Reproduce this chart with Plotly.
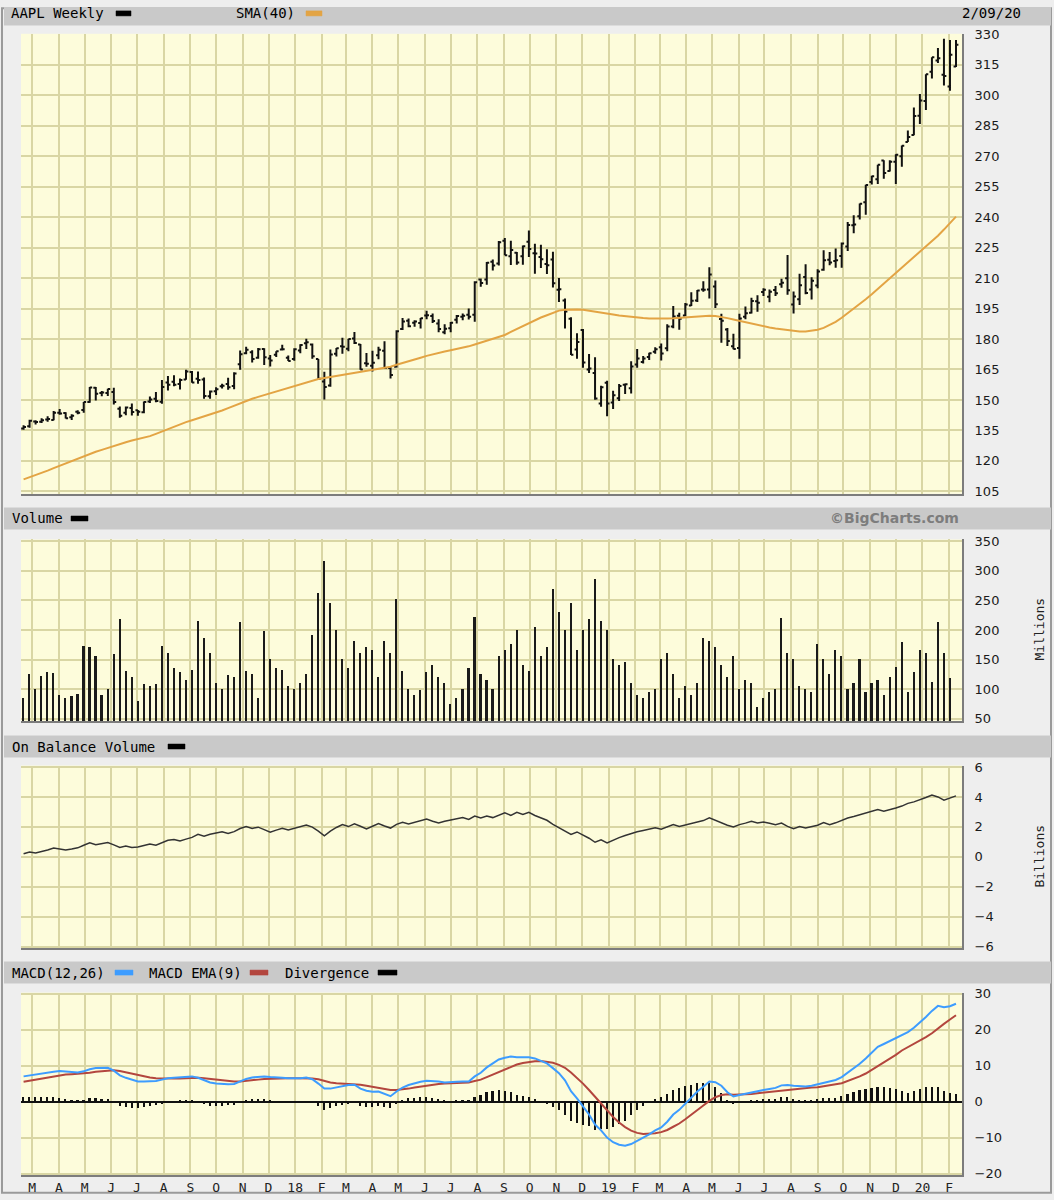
import pandas as pd
import plotly.graph_objects as go

W, H = 1054, 1200

# weekly bars, week starting Sunday 2017-02-19 .. 2020-02-09
dates = pd.date_range("2017-02-19", periods=156, freq="W-SUN")

price_open = [
    135.9, 137.1, 139.4, 139.3, 140.4, 140.1, 143.7, 143.6, 141.5, 144.2, 145.1, 149.0, 156.0, 153.4, 153.4,
    153.9, 145.7, 143.7, 146.0, 144.9, 144.0, 149.2, 150.6, 149.1, 158.6, 159.0, 157.9, 160.1, 163.8, 160.5,
    160.1, 151.8, 154.3, 156.7, 157.9, 156.9, 167.6, 173.0, 173.5, 170.8, 175.1, 170.4, 172.2, 174.9, 170.8,
    170.2, 174.4, 177.9, 177.3, 170.2, 159.1, 157.1, 172.8, 176.4, 175.2, 180.3, 177.3, 168.1, 166.9, 172.0,
    174.2, 165.7, 166.4, 184.9, 189.0, 188.0, 187.9, 191.6, 191.4, 187.7, 183.4, 185.3, 189.5, 191.0, 191.9,
    191.9, 209.3, 209.3, 218.1, 217.2, 228.4, 220.8, 222.5, 220.8, 227.9, 222.2, 220.4, 217.0, 219.2, 204.3,
    199.0, 190.0, 174.9, 184.5, 165.0, 163.3, 148.2,
    158.5, 148.7, 150.8, 157.5, 155.8, 167.4, 168.7, 171.2, 173.7, 175.9, 175.5, 186.2, 191.5, 191.6, 196.5,
    199.0, 204.4, 204.4, 205.9, 189.9, 184.7, 176.4, 175.6, 191.0, 192.9, 198.6, 203.2, 200.8, 204.1, 207.0,
    209.9, 197.0, 199.6, 210.6, 204.4, 206.4, 214.1, 219.0, 218.4, 220.9, 225.6, 236.0, 240.5, 247.4, 257.3,
    258.7, 267.9, 262.7, 267.3, 270.0, 277.0, 280.5,
    289.9, 297.2, 311.6, 317.2, 310.1, 304.3, 314.2,
]
price_high = [
    137.5, 140.3, 140.0, 141.0, 142.0, 144.5, 145.5, 143.9, 142.9, 144.9, 149.0, 156.4, 156.4, 154.4, 155.5,
    156.0, 146.8, 146.8, 148.3, 145.0, 149.3, 151.7, 153.9, 159.8, 161.8, 162.2, 160.6, 164.9, 164.3, 164.0,
    161.0, 154.7, 156.3, 158.0, 160.9, 163.6, 174.3, 176.2, 174.5, 175.6, 175.4, 172.1, 174.0, 177.2, 171.9,
    175.4, 177.4, 180.1, 177.8, 170.2, 163.9, 174.8, 175.6, 180.6, 180.0, 183.5, 177.5, 173.1, 174.2, 176.2,
    178.9, 166.3, 184.3, 190.4, 190.1, 189.3, 190.3, 193.9, 192.6, 189.8, 187.3, 188.4, 191.8, 192.6, 195.0,
    208.4, 209.8, 217.9, 219.2, 228.3, 229.7, 228.4, 222.9, 226.0, 233.5, 226.9, 226.4, 224.2, 223.0, 210.1,
    199.9, 190.7, 182.8, 184.9, 172.6, 171.0, 157.0,
    159.4, 154.5, 157.9, 158.1, 169.0, 175.1, 171.7, 173.3, 175.9, 177.8, 187.3, 196.3, 192.9, 197.8, 203.0,
    204.2, 208.5, 215.3, 208.8, 192.5, 185.4, 182.6, 192.4, 196.0, 200.3, 201.6, 205.0, 204.4, 206.1, 209.7,
    221.4, 203.4, 212.1, 216.8, 210.4, 214.4, 223.7, 222.9, 224.6, 227.5, 237.6, 241.0, 246.7, 256.0, 260.4,
    265.8, 268.0, 268.0, 271.0, 275.3, 282.7, 294.0,
    300.6, 310.4, 318.8, 323.3, 327.9, 327.2, 327.2,
]
price_low = [
    135.3, 136.3, 137.9, 138.6, 139.3, 140.0, 142.7, 140.9, 140.1, 142.9, 143.7, 148.6, 149.7, 151.8, 152.0,
    147.8, 141.2, 142.5, 142.3, 142.2, 143.4, 148.5, 148.9, 148.1, 154.6, 156.7, 155.1, 159.9, 158.5, 158.0,
    150.6, 150.6, 152.5, 155.6, 155.0, 155.3, 164.9, 172.5, 168.4, 170.3, 167.2, 166.5, 171.2, 174.4, 169.2,
    169.3, 173.0, 175.1, 170.3, 160.0, 150.2, 156.5, 171.4, 172.7, 174.0, 177.6, 164.9, 166.4, 164.0, 170.0,
    165.4, 160.6, 166.0, 184.5, 185.8, 186.1, 185.2, 189.8, 187.9, 183.4, 182.4, 183.4, 187.6, 189.3, 189.6,
    188.5, 205.8, 206.7, 213.7, 216.2, 221.3, 216.5, 216.6, 216.6, 220.4, 212.2, 215.0, 212.0, 205.4, 198.2,
    185.2, 172.1, 170.3, 165.9, 163.3, 150.1, 146.6,
    142.0, 145.6, 149.5, 152.9, 153.2, 165.9, 168.0, 169.7, 172.7, 169.4, 174.0, 185.3, 184.6, 191.3, 196.3,
    198.2, 203.3, 199.9, 195.3, 178.2, 176.6, 175.0, 170.3, 189.7, 192.6, 193.4, 201.2, 198.1, 201.2, 205.3,
    201.8, 192.6, 196.8, 202.1, 199.5, 205.0, 213.6, 216.3, 215.1, 215.1, 223.3, 232.1, 238.9, 241.2, 256.1,
    256.3, 258.9, 262.5, 256.3, 264.8, 277.0, 280.4,
    285.9, 292.8, 308.3, 315.9, 304.8, 302.2, 314.0,
]
price_close = [
    136.66, 139.78, 139.14, 139.99, 140.64, 143.66, 143.34, 141.05, 142.27, 143.65, 148.96, 156.10, 153.06, 153.61, 155.45,
    148.98, 142.27, 146.28, 144.02, 144.18, 149.04, 150.27, 149.50, 156.39, 157.48, 157.50, 159.86, 164.05, 158.63, 159.88,
    151.89, 154.12, 155.30, 156.99, 156.25, 163.05, 172.50, 174.67, 170.15, 174.97, 171.05, 169.37, 173.97, 175.01, 169.23,
    175.00, 177.09, 178.46, 171.51, 160.50, 156.41, 172.43, 175.50, 176.21, 179.98, 178.02, 164.94, 167.78, 168.38, 174.73,
    165.72, 162.32, 183.83, 188.59, 186.31, 188.58, 190.24, 191.70, 188.84, 184.92, 185.11, 187.97, 191.33, 191.44, 190.98,
    207.99, 207.53, 217.58, 216.16, 227.63, 221.30, 223.84, 217.66, 225.74, 224.29, 222.11, 219.31, 216.30, 207.48, 204.47,
    193.53, 172.29, 178.58, 168.49, 165.48, 150.73, 156.23,
    148.26, 152.29, 156.82, 157.76, 166.52, 170.41, 170.42, 172.97, 174.97, 172.91, 186.12, 191.05, 189.95, 197.00, 198.87,
    203.86, 204.30, 211.75, 197.18, 189.00, 178.97, 175.07, 190.15, 192.74, 198.78, 197.92, 204.23, 203.30, 202.59, 207.74,
    204.02, 200.99, 206.50, 202.64, 208.74, 213.26, 218.75, 217.73, 218.82, 227.01, 236.21, 236.41, 246.58, 255.82, 260.14,
    265.76, 261.78, 267.25, 270.71, 275.15, 279.44, 289.80,
    297.43, 310.33, 318.73, 318.31, 309.51, 320.03, 324.95,
]
sma40 = [
    110.9, 111.9, 113.0, 114.1, 115.2, 116.4, 117.6, 118.7, 119.9, 121.1, 122.3, 123.4, 124.5, 125.4, 126.4,
    127.4, 128.4, 129.2, 130.0, 130.7, 131.4, 132.2, 133.3, 134.5, 135.6, 136.8, 138.0, 139.1, 140.0, 140.9,
    141.8, 142.7, 143.6, 144.8, 146.0, 147.2, 148.3, 149.5, 150.6, 151.5, 152.4, 153.3, 154.2, 155.1, 156.0,
    157.0, 157.9, 158.8, 159.7, 160.3, 160.8, 161.3, 161.7, 162.1, 162.6, 163.1, 163.6, 164.1, 164.6, 165.1,
    165.7, 166.4, 167.3, 168.1, 169.0, 169.9, 170.8, 171.7, 172.5, 173.3, 173.9, 174.5, 175.1, 175.8, 176.4,
    177.3, 178.2, 179.1, 180.0, 180.9, 182.0, 183.5, 185.0, 186.5, 188.0, 189.5, 190.6, 191.7, 192.8, 194.0,
    194.4, 194.6, 194.6, 194.4, 194.0, 193.6, 193.1, 192.6, 192.1, 191.6, 191.2, 190.9, 190.6, 190.3, 190.1,
    190.0, 190.0, 190.1, 190.2, 190.4, 190.5, 190.8, 191.1, 191.3, 191.5, 191.3, 190.9, 190.3, 189.6, 188.9,
    188.2, 187.5, 186.8, 186.2, 185.7, 185.2, 184.8, 184.3, 184.0, 183.7, 183.7, 184.0, 184.6, 185.5, 186.8,
    188.5, 190.5, 192.7, 195.0, 197.4, 199.6, 202.0, 204.6, 207.3, 210.0, 212.7, 215.3, 217.8, 220.3, 222.8,
    225.3, 228.0, 230.9, 233.9, 237.0, 240.3,
]
volume_m = [
    85, 125, 100, 122, 128, 127, 90, 85, 88, 92, 172, 170, 155, 90, 100,
    158, 218, 130, 120, 80, 108, 105, 108, 172, 160, 135, 128, 115, 132, 215,
    185, 160, 110, 100, 124, 120, 213, 130, 125, 85, 197, 150, 135, 132, 105,
    100, 110, 125, 190, 262, 315, 245, 200, 150, 135, 180, 160, 170, 165, 120,
    180, 160, 252, 130, 100, 90, 98, 128, 140, 120, 110, 75, 85, 100, 135,
    222, 125, 115, 100, 155, 165, 175, 200, 140, 130, 205, 155, 170, 268, 230,
    200, 245, 165, 200, 218, 285, 215,
    200, 150, 140, 145, 110, 90, 85, 95, 100, 150, 160, 125, 85, 105, 90,
    110, 185, 180, 170, 140, 120, 155, 100, 115, 110, 70, 85, 95, 100, 220,
    160, 150, 105, 100, 95, 175, 150, 125, 165, 155, 100, 110, 150, 95, 110,
    115, 90, 120, 137, 179, 94,
    129, 165, 161, 112, 212, 161, 119,
]
obv_b = [
    0.20, 0.32, 0.25, 0.33, 0.45, 0.58, 0.50, 0.45, 0.52, 0.60, 0.77, 0.93, 0.80, 0.86, 0.95,
    0.80, 0.62, 0.72, 0.62, 0.66, 0.76, 0.86, 0.78, 0.95, 1.10, 1.16, 1.05, 1.18, 1.30, 1.50,
    1.38, 1.50, 1.60, 1.68, 1.56, 1.68, 1.89, 2.02, 1.90, 1.98, 1.82, 1.64, 1.78, 1.91, 1.80,
    1.90, 2.01, 2.13, 1.98, 1.72, 1.40, 1.72, 1.96, 2.16, 2.02, 2.20, 2.04, 1.87, 2.04, 2.22,
    2.06, 1.92, 2.17, 2.30, 2.20, 2.29, 2.39, 2.52, 2.38, 2.26, 2.37, 2.45, 2.53, 2.63, 2.50,
    2.72, 2.60, 2.72, 2.62, 2.78, 2.94, 2.77, 2.97, 2.83, 2.97, 2.76, 2.61, 2.44, 2.17, 1.94,
    1.74, 1.50, 1.66, 1.46, 1.24, 0.97, 1.13, 0.92, 1.12, 1.28, 1.42, 1.56, 1.67, 1.76, 1.85,
    1.94, 1.84, 1.99, 2.15, 2.03, 2.12, 2.22, 2.31, 2.42, 2.60, 2.42, 2.25, 2.11, 1.99, 2.15,
    2.25, 2.37, 2.26, 2.33, 2.24, 2.15, 2.25, 2.03, 1.87, 2.02, 1.92, 2.02, 2.11, 2.29, 2.14,
    2.27, 2.43, 2.59, 2.69, 2.80, 2.95, 3.05, 3.16, 3.05, 3.14, 3.26, 3.39, 3.57, 3.67, 3.80,
    3.96, 4.12, 4.00, 3.79, 3.95, 4.07,
]
macd = [
    7.0, 7.3, 7.6, 7.9, 8.1, 8.3, 8.5, 8.3, 8.1, 8.1, 8.4, 9.0, 9.3, 9.3, 9.4,
    8.6, 7.3, 6.6, 6.0, 5.6, 5.6, 5.7, 5.7, 6.1, 6.5, 6.6, 6.7, 6.9, 7.0, 6.6,
    6.0, 5.3, 5.0, 4.8, 4.8, 4.9, 5.6, 6.3, 6.7, 6.9, 7.0, 6.8, 6.6, 6.6, 6.5,
    6.4, 6.5, 6.7, 6.2, 5.0, 3.6, 3.6, 4.0, 4.3, 4.6, 4.7, 3.6, 3.0, 2.7, 2.8,
    2.2, 1.5, 2.8, 3.9, 4.6, 5.1, 5.5, 5.8, 5.8, 5.6, 5.3, 5.3, 5.5, 5.6, 5.6,
    7.0, 8.0, 9.5, 10.5, 11.7, 12.2, 12.5, 12.3, 12.4, 12.3, 12.0, 11.4, 10.6, 9.3, 7.9,
    5.9, 2.9, 0.9, -1.5, -3.6, -6.4, -8.0, -10.0, -11.3, -12.0, -12.3, -11.8, -10.9, -10.1, -9.1,
    -8.0, -7.2, -5.6, -3.6, -2.3, -0.5, 1.1, 2.8, 4.1, 5.6, 5.4, 4.4, 2.6, 1.4, 1.8,
    2.2, 2.6, 2.8, 3.2, 3.5, 3.8, 4.5, 4.6, 4.4, 4.3, 4.2, 4.4, 4.8, 5.3, 5.7,
    6.0, 6.8, 8.0, 9.1, 10.5, 12.0, 13.6, 15.2, 16.0, 16.8, 17.5, 18.3, 19.3, 20.5, 21.9,
    23.5, 25.2, 26.6, 26.2, 26.5, 27.2,
]
macd_ema9 = [
    5.5, 5.8, 6.1, 6.4, 6.7, 7.0, 7.3, 7.5, 7.6, 7.7, 7.8, 8.0, 8.3, 8.5, 8.7,
    8.7, 8.5, 8.1, 7.7, 7.3, 7.0, 6.7, 6.5, 6.4, 6.4, 6.4, 6.4, 6.5, 6.6, 6.6,
    6.5, 6.3, 6.0, 5.8, 5.7, 5.6, 5.6, 5.7, 5.9, 6.1, 6.3, 6.4, 6.4, 6.5, 6.5,
    6.5, 6.5, 6.5, 6.4, 6.2, 5.7, 5.3, 5.1, 5.0, 4.9, 4.9, 4.7, 4.4, 4.1, 3.9,
    3.6, 3.2, 3.2, 3.3, 3.6, 3.9, 4.2, 4.5, 4.8, 4.9, 5.0, 5.1, 5.2, 5.3, 5.3,
    5.7, 6.1, 6.8, 7.5, 8.3, 9.1, 9.8, 10.3, 10.7, 11.0, 11.2, 11.3, 11.1, 10.8, 10.2,
    9.4, 8.1, 6.6, 5.0, 3.2, 1.3, -0.6, -2.5, -4.3, -5.8, -7.1, -8.1, -8.7, -9.0, -9.0,
    -8.8, -8.5, -7.9, -7.0, -6.1, -4.9, -3.7, -2.4, -1.1, 0.2, 1.2, 1.8, 2.0, 1.9, 1.9,
    2.0, 2.1, 2.3, 2.5, 2.7, 2.9, 3.1, 3.3, 3.5, 3.7, 3.8, 3.9, 4.0, 4.2, 4.5,
    4.8, 5.1, 5.7, 6.3, 7.0, 7.8, 8.8, 9.8, 10.9, 12.0, 13.0, 14.2, 15.1, 16.0, 16.9,
    17.9, 19.0, 20.4, 21.6, 22.8, 24.0,
]
divergence = [
    1.5, 1.5, 1.5, 1.5, 1.4, 1.3, 1.2, 0.8, 0.5, 0.4, 0.6, 1.0, 1.0, 0.8, 0.7,
    -0.1, -1.2, -1.5, -1.7, -1.7, -1.4, -1.0, -0.8, -0.3, 0.1, 0.2, 0.3, 0.4, 0.4, 0.0,
    -0.5, -1.0, -1.0, -1.0, -0.9, -0.7, 0.0, 0.6, 0.8, 0.8, 0.7, 0.4, 0.2, 0.1, 0.0,
    -0.1, 0.0, 0.2, -0.2, -1.2, -2.1, -1.7, -1.1, -0.7, -0.3, -0.2, -1.1, -1.4, -1.4, -1.1,
    -1.4, -1.7, -0.4, 0.6, 1.0, 1.2, 1.3, 1.3, 1.0, 0.7, 0.3, 0.2, 0.3, 0.3, 0.3,
    1.3, 1.9, 2.7, 3.0, 3.4, 3.1, 2.7, 2.0, 1.7, 1.3, 0.8, 0.1, -0.5, -1.5, -2.3,
    -3.5, -5.2, -5.7, -6.5, -6.8, -7.7, -7.4, -7.5, -7.0, -6.2, -5.2, -3.7, -2.2, -1.1, -0.1,
    0.8, 1.3, 2.3, 3.4, 3.8, 4.4, 4.8, 5.2, 5.2, 5.4, 4.2, 2.6, 0.6, -0.5, -0.1,
    0.2, 0.5, 0.5, 0.7, 0.8, 0.9, 1.4, 1.3, 0.9, 0.6, 0.4, 0.5, 0.8, 1.1, 1.2,
    1.2, 1.7, 2.3, 2.8, 3.2, 3.5, 3.8, 4.1, 4.3, 4.0, 3.5, 2.95, 2.5, 3.1, 3.6,
    4.1, 4.25, 4.25, 3.1, 2.5, 2.2,
]

month_starts = pd.date_range("2017-03-01", "2020-02-01", freq="MS")
month_labels = ["M", "A", "M", "J", "J", "A", "S", "O", "N", "D",
                "18", "F", "M", "A", "M", "J", "J", "A", "S", "O", "N", "D",
                "19", "F", "M", "A", "M", "J", "J", "A", "S", "O", "N", "D",
                "20", "F"]

BG = "#fdfcdb"
GRID = "#d9d6a4"
HEADER = "#c9c9c9"
MONO = "DejaVu Sans Mono"


def px_x(px):
    return px / W


def px_y(px):
    # the captured page comes out slightly squeezed vertically, so stretch the target rows to match
    return 1 - ((px - 6.6) / 0.989) / H


fig = go.Figure()

fig.add_trace(go.Ohlc(x=dates, open=price_open, high=price_high, low=price_low, close=price_close,
                      increasing=dict(line=dict(color="#111111", width=2)),
                      decreasing=dict(line=dict(color="#111111", width=2)),
                      tickwidth=0.4, xaxis="x", yaxis="y", hoverinfo="skip"))
fig.add_trace(go.Scatter(x=dates, y=sma40, mode="lines", line=dict(color="#e3a444", width=2),
                         xaxis="x", yaxis="y", hoverinfo="skip"))
fig.add_trace(go.Bar(x=dates, y=volume_m, width=1.6e8, marker=dict(color="#1a1a1a", line=dict(width=0)),
                     xaxis="x2", yaxis="y2", hoverinfo="skip"))
fig.add_trace(go.Scatter(x=dates, y=obv_b, mode="lines", line=dict(color="#333333", width=1.5),
                         xaxis="x3", yaxis="y3", hoverinfo="skip"))
fig.add_trace(go.Bar(x=dates, y=divergence, width=1.6e8, marker=dict(color="#111111", line=dict(width=0)),
                     xaxis="x4", yaxis="y4", hoverinfo="skip"))
fig.add_trace(go.Scatter(x=dates, y=macd_ema9, mode="lines", line=dict(color="#b3463e", width=2),
                         xaxis="x4", yaxis="y4", hoverinfo="skip"))
fig.add_trace(go.Scatter(x=dates, y=macd, mode="lines", line=dict(color="#3d9cff", width=2),
                         xaxis="x4", yaxis="y4", hoverinfo="skip"))

# panels: (top px, bottom px, y range, dtick, tick0)
panels = [
    (33.4, 493.3, [103.8, 330.3], 15, 105),
    (539.0, 720.7, [46, 353], 50, 50),
    (765.0, 947.5, [-6.1, 6.1], 2, 0),
    (992.0, 1174.0, [-20.3, 30.3], 10, 0),
]

layout = dict(
    width=W, height=H, margin=dict(l=0, r=0, t=0, b=0),
    paper_bgcolor="#eeeeee", plot_bgcolor=BG, showlegend=False,
    hovermode=False, bargap=0,
)
for n, (top, bottom, yr, dt, t0) in enumerate(panels, start=1):
    sx = "" if n == 1 else str(n)
    layout["xaxis" + sx] = dict(
        type="date", range=["2017-02-16", "2020-02-16"], domain=[px_x(21), px_x(962)],
        anchor="y" + sx, tickvals=list(month_starts), ticktext=month_labels,
        showticklabels=(n == 4), ticks="", showgrid=True, gridcolor=GRID, gridwidth=2,
        showline=True, linecolor="#7c7c7c", linewidth=2, zeroline=False,
        tickfont=dict(family=MONO, size=13, color="#222222"),
        rangeslider=dict(visible=False), fixedrange=True,
    )
    layout["yaxis" + sx] = dict(
        domain=[px_y(bottom), px_y(top)], range=yr, anchor="x" + sx, side="right",
        dtick=dt, tick0=t0, ticks="", showgrid=True, gridcolor=GRID, gridwidth=2,
        showline=True, linecolor="#7c7c7c", linewidth=2,
        zeroline=(n == 4), zerolinecolor="#111111", zerolinewidth=1.5,
        tickfont=dict(family="DejaVu Sans", size=13, color="#1a1a1a"),
        ticklabelstandoff=8, fixedrange=True,
    )
fig.update_layout(**layout)

shapes = []
annotations = []

# outer frame
shapes.append(dict(type="rect", xref="paper", yref="paper", x0=px_x(2), x1=px_x(1051),
                   y0=0.001, y1=0.999, line=dict(color="#9a9a9a", width=2), layer="below"))

# header bars
headers = [(0, 25), (507, 529), (735, 757), (961, 983)]
for top, bottom in headers:
    shapes.append(dict(type="rect", xref="paper", yref="paper", x0=px_x(4), x1=px_x(1051),
                       y0=px_y(bottom), y1=min(px_y(top), 1.0), fillcolor=HEADER, line=dict(width=0),
                       layer="below"))


def label(text, x, yc, anchor="left", font=None):
    annotations.append(dict(text=text, xref="paper", yref="paper", x=px_x(x), y=px_y(yc),
                            xanchor=anchor, yanchor="middle", showarrow=False,
                            font=font or dict(family=MONO, size=14, color="#000000")))


def swatch(x0, x1, yc, color):
    shapes.append(dict(type="rect", xref="paper", yref="paper", x0=px_x(x0), x1=px_x(x1),
                       y0=px_y(yc + 2.5), y1=px_y(yc - 2.5), fillcolor=color,
                       line=dict(color=color, width=0.5)))


label("AAPL Weekly", 9, 13)
swatch(116, 131, 13, "#000000")
label("SMA(40)", 234, 13)
swatch(306, 322, 13, "#e3a444")
label("2/09/20", 1023, 13, anchor="right")

label("Volume", 10, 518)
swatch(71, 88, 518, "#000000")
label("©BigCharts.com", 961, 518, anchor="right",
      font=dict(family="DejaVu Sans", size=14, color="#7d7d7d", weight="bold"))

label("On Balance Volume", 10, 746)
swatch(168, 185, 746, "#000000")

label("MACD(12,26)", 10, 972)
swatch(115, 133, 972, "#3d9cff")
label("MACD EMA(9)", 147, 972)
swatch(250, 268, 972, "#b3463e")
label("Divergence", 283, 972)
swatch(378, 397, 972, "#000000")

for text, yc in [("Millions", 629), ("Billions", 856)]:
    annotations.append(dict(text=text, xref="paper", yref="paper", x=px_x(1040), y=px_y(yc),
                            xanchor="center", yanchor="middle", showarrow=False, textangle=-90,
                            font=dict(family=MONO, size=13, color="#222222")))

fig.update_layout(shapes=shapes, annotations=annotations)

# drop the default page margin so the figure sits at the window's top-left corner
fig.write_html("out.html", config={"displayModeBar": False},
               post_script="document.body.style.margin='0';document.body.style.overflow='hidden';"
                           "document.body.style.background='#c9c9c9';")
